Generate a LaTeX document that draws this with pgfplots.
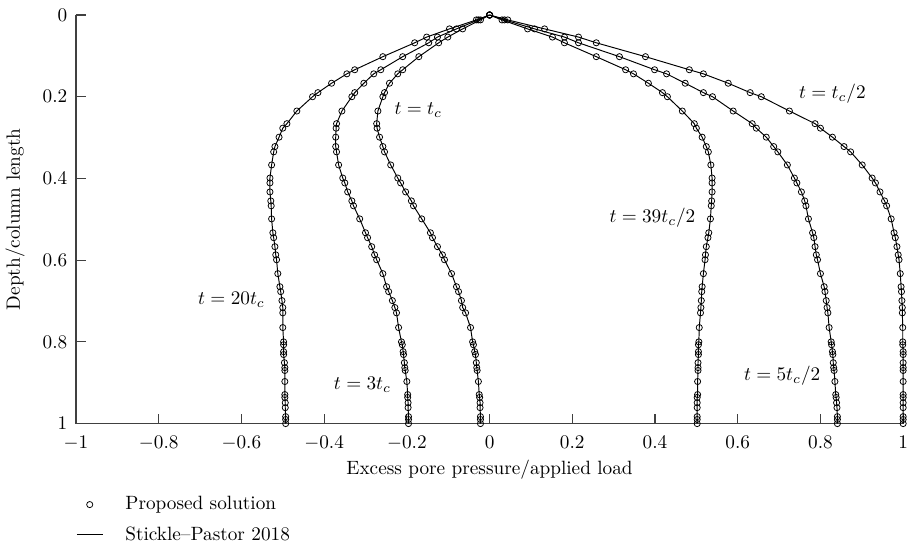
\documentclass[border=0pt]{standalone}
\usepackage{pgfplots}
\usepackage{pgfplotstable}
\pgfplotsset{compat=1.18}

% depth d, then excess pore pressure for each time
% a: t=tc/2, b: t=5tc/2, c: t=39tc/2, e: t=tc, f: t=3tc, g: t=20tc
\pgfplotstableread{
d      a      b      c      e       f       g
0.000  0.000  0.000  0.000  0.000   0.000   0.000
0.012  0.044  0.036  0.030  -0.022  -0.027  -0.032
0.034  0.133  0.109  0.092  -0.065  -0.080  -0.097
0.054  0.215  0.181  0.152  -0.101  -0.126  -0.152
0.068  0.258  0.215  0.181  -0.123  -0.147  -0.181
0.102  0.377  0.314  0.258  -0.171  -0.210  -0.258
0.134  0.483  0.399  0.329  -0.210  -0.263  -0.326
0.144  0.517  0.428  0.348  -0.222  -0.280  -0.345
0.167  0.577  0.473  0.384  -0.242  -0.304  -0.382
0.190  0.630  0.517  0.418  -0.254  -0.326  -0.415
0.200  0.657  0.539  0.430  -0.258  -0.333  -0.428
0.235  0.725  0.589  0.466  -0.270  -0.357  -0.466
0.266  0.787  0.635  0.495  -0.273  -0.370  -0.490
0.277  0.800  0.645  0.500  -0.272  -0.371  -0.500
0.299  0.829  0.669  0.514  -0.266  -0.372  -0.509
0.322  0.857  0.687  0.524  -0.258  -0.372  -0.519
0.335  0.873  0.697  0.529  -0.254  -0.370  -0.522
0.367  0.901  0.720  0.535  -0.239  -0.365  -0.527
0.399  0.925  0.737  0.538  -0.222  -0.355  -0.531
0.411  0.933  0.743  0.538  -0.215  -0.350  -0.531
0.433  0.944  0.754  0.538  -0.203  -0.343  -0.531
0.455  0.955  0.762  0.537  -0.189  -0.333  -0.529
0.467  0.960  0.765  0.536  -0.184  -0.329  -0.528
0.499  0.971  0.771  0.534  -0.164  -0.314  -0.527
0.533  0.978  0.781  0.530  -0.143  -0.300  -0.524
0.545  0.981  0.784  0.528  -0.138  -0.295  -0.522
0.567  0.985  0.787  0.524  -0.126  -0.285  -0.519
0.587  0.988  0.790  0.522  -0.114  -0.278  -0.517
0.599  0.990  0.793  0.521  -0.109  -0.273  -0.515
0.633  0.993  0.800  0.517  -0.092  -0.258  -0.512
0.665  0.995  0.809  0.514  -0.080  -0.249  -0.507
0.677  0.996  0.811  0.513  -0.075  -0.244  -0.505
0.699  0.997  0.814  0.512  -0.068  -0.235  -0.502
0.716  0.998  0.816  0.511  -0.065  -0.229  -0.500
0.729  0.998  0.818  0.510  -0.058  -0.225  -0.500
0.765  0.999  0.821  0.507  -0.046  -0.220  -0.500
0.800  0.999  0.826  0.506  -0.041  -0.213  -0.498
0.807  0.999  0.827  0.505  -0.039  -0.211  -0.498
0.824  1.000  0.829  0.505  -0.036  -0.209  -0.498
0.831  1.000  0.830  0.505  -0.034  -0.208  -0.498
0.851  1.000  0.831  0.504  -0.032  -0.206  -0.496
0.863  1.000  0.832  0.504  -0.031  -0.205  -0.495
0.870  1.000  0.833  0.504  -0.030  -0.204  -0.495
0.897  1.000  0.835  0.503  -0.027  -0.200  -0.495
0.929  1.000  0.837  0.503  -0.025  -0.198  -0.495
0.936  1.000  0.838  0.502  -0.024  -0.198  -0.495
0.949  1.000  0.839  0.502  -0.023  -0.197  -0.494
0.961  1.000  0.840  0.502  -0.023  -0.197  -0.494
0.983  1.000  0.841  0.502  -0.022  -0.196  -0.493
0.990  1.000  0.841  0.502  -0.022  -0.196  -0.493
1.000  1.000  0.841  0.502  -0.022  -0.196  -0.493
}\profiles

\begin{document}
\begin{tikzpicture}
\begin{axis}[
  scale only axis,
  width=430pt, height=212.4pt,
  xmin=-1, xmax=1, ymin=0, ymax=1,
  y dir=reverse,
  axis x line*=bottom, axis y line*=left,
  axis line style={black!75, line width=0.8pt},
  tick style={black!75, line width=0.6pt},
  tick align=inside,
  major tick length=5pt,
  xtick={-1,-0.8,...,1}, ytick={0,0.2,...,1},
  xticklabel style={inner ysep=1pt, yshift=-5.5pt},
  yticklabel style={inner xsep=1pt, xshift=-3.3pt},
  clip=false,
  xlabel={Excess pore pressure/applied load},
  ylabel={Depth/column length},
  xlabel style={at={(axis description cs:0.5,-0.1125)}, anchor=center},
  ylabel style={at={(axis description cs:-0.0737,0.5)}, anchor=center, rotate=0},
  legend style={at={(axis description cs:0,-0.168)}, anchor=north west,
    draw=none, fill=none, inner sep=0pt, row sep=3.2pt, column sep=9.5pt,
    cells={anchor=west}},
  legend cell align=left,
  every axis plot/.append style={black, line width=0.5pt},
]
\addlegendimage{legend image code/.code={
  \draw[black, line width=0.4pt] plot[mark=o, mark size=1.6pt] coordinates {(6.7pt,0pt)};}}
\addlegendentry{Proposed solution}
\addlegendimage{legend image code/.code={
  \draw[black, line width=0.5pt] (0pt,0pt) -- (13.5pt,0pt);}}
\addlegendentry{Stickle--Pastor 2018}

\addplot[forget plot, mark=o, mark size=1.6pt, mark options={line width=0.4pt}] table[x=a, y=d] {\profiles};
\addplot[forget plot, mark=o, mark size=1.6pt, mark options={line width=0.4pt}] table[x=b, y=d] {\profiles};
\addplot[forget plot, mark=o, mark size=1.6pt, mark options={line width=0.4pt}] table[x=c, y=d] {\profiles};
\addplot[forget plot, mark=o, mark size=1.6pt, mark options={line width=0.4pt}] table[x=e, y=d] {\profiles};
\addplot[forget plot, mark=o, mark size=1.6pt, mark options={line width=0.4pt}] table[x=f, y=d] {\profiles};
\addplot[forget plot, mark=o, mark size=1.6pt, mark options={line width=0.4pt}] table[x=g, y=d] {\profiles};

\node[anchor=west] at (axis cs:-0.246,0.232) {$t = t_c$};
\node[anchor=west] at (axis cs:0.732,0.193) {$t = t_c/2$};
\node[anchor=east] at (axis cs:0.514,0.496) {$t = 39t_c/2$};
\node[anchor=east] at (axis cs:-0.527,0.697) {$t = 20t_c$};
\node[anchor=east] at (axis cs:-0.222,0.905) {$t = 3t_c$};
\node[anchor=east] at (axis cs:0.816,0.883) {$t = 5t_c/2$};
\end{axis}
\pgfresetboundingbox
\path ([xshift=-39.5pt,yshift=-65.4pt]current axis.south west)
  rectangle ([xshift=2pt,yshift=7.8pt]current axis.north east);
\end{tikzpicture}
\end{document}
